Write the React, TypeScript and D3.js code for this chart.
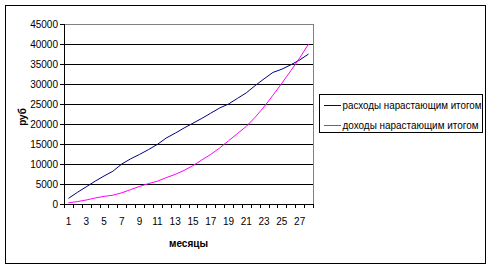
import React from "react";
import * as d3 from "d3";

const months: number[] = Array.from({ length: 28 }, (_, i) => i + 1);
const expenses: number[] = [
  1400, 2900, 4300, 5700, 7000, 8200, 10000, 11300, 12400, 13600, 14900, 16500, 17700, 19000,
  20200, 21400, 22700, 24000, 25000, 26400, 27800, 29600, 31300, 32900, 33700, 34800, 36000, 37500,
];
const income: number[] = [
  300, 600, 1000, 1500, 1900, 2200, 2800, 3600, 4400, 5100, 5700, 6600, 7400, 8400,
  9600, 11000, 12400, 14000, 15800, 17600, 19400, 21700, 24300, 27200, 30200, 33300, 36500, 40000,
];
const yTicks: number[] = [0, 5000, 10000, 15000, 20000, 25000, 30000, 35000, 40000, 45000];
const xLabels: number[] = [1, 3, 5, 7, 9, 11, 13, 15, 17, 19, 21, 23, 25, 27];
const seriesNames: string[] = ["расходы нарастающим итогом", "доходы нарастающим итогом"];
const seriesColors: string[] = ["#000080", "#ff00ff"];
const yTitle = "руб";
const xTitle = "месяцы";

const FONT = "'Liberation Sans', Arial, sans-serif";

export default function App() {
  const W = 491, H = 268;
  const left = 64, right = 313, top = 24, bottom = 204;
  const x = d3.scaleBand<number>().domain(months).range([left, right]).padding(0);
  const y = d3.scaleLinear().domain([0, 45000]).range([bottom, top]);
  const cx = (m: number) => (x(m) as number) + x.bandwidth() / 2;
  const line = d3.line<number>().x((_, i) => cx(months[i])).y((d) => y(d));
  const series = [expenses, income];
  const boundaries = months.map((m) => x(m) as number).concat([right]);
  const legendWidths = [139, 136];

  return (
    <svg width={W} height={H} style={{ position: "fixed", left: 0, top: 0, background: "#fff" }}>
      <rect x={0} y={0} width={W} height={H} fill="#fff" />
      <rect x={5.5} y={5.5} width={480} height={258} fill="#fff" stroke="#000" strokeWidth={1} />
      {/* gridlines */}
      {yTicks.map((t) => (
        <line key={t} x1={left} x2={right} y1={Math.round(y(t)) + 0.5} y2={Math.round(y(t)) + 0.5}
          stroke={t === 45000 ? "#808080" : "#000"} strokeWidth={1} />
      ))}
      {/* plot right border */}
      <line x1={right + 0.5} x2={right + 0.5} y1={top} y2={bottom} stroke="#808080" />
      {/* y axis */}
      <line x1={left + 0.5} x2={left + 0.5} y1={top} y2={bottom + 1} stroke="#000" />
      {yTicks.map((t) => (
        <g key={"yt" + t}>
          <line x1={left - 4} x2={left} y1={Math.round(y(t)) + 0.5} y2={Math.round(y(t)) + 0.5} stroke="#000" />
          <text x={left - 6} y={y(t)} dy="0.35em" textAnchor="end" fontFamily={FONT} fontSize={10} fill="#000">
            {t}
          </text>
        </g>
      ))}
      {/* x axis */}
      <line x1={left} x2={right} y1={bottom + 0.5} y2={bottom + 0.5} stroke="#000" />
      {boundaries.map((b, i) => (
        <line key={"xt" + i} x1={Math.round(b) + 0.5} x2={Math.round(b) + 0.5} y1={bottom} y2={bottom + 4} stroke="#000" />
      ))}
      {xLabels.map((m) => (
        <text key={"xl" + m} x={cx(m)} y={225} textAnchor="middle" fontFamily={FONT} fontSize={10} fill="#000">
          {m}
        </text>
      ))}
      {/* series */}
      {series.map((s, i) => (
        <path key={"s" + i} d={line(s) as string} fill="none" stroke={seriesColors[i]} strokeWidth={1} />
      ))}
      {/* titles */}
      <text x={(left + right) / 2} y={247} textAnchor="middle" fontFamily={FONT} fontSize={10} fontWeight="bold" fill="#000">
        {xTitle}
      </text>
      <text transform={`translate(26,${(top + bottom) / 2 + 3}) rotate(-90)`} textAnchor="middle" fontFamily={FONT}
        fontSize={10} fontWeight="bold" fill="#000">
        {yTitle}
      </text>
      {/* legend */}
      <rect x={319.5} y={94.5} width={163} height={38} fill="#fff" stroke="#000" />
      {seriesNames.map((n, i) => {
        const ly = 105 + i * 20;
        return (
          <g key={"lg" + i}>
            <line x1={324} x2={341} y1={ly + 0.5} y2={ly + 0.5} stroke={seriesColors[i]} />
            <text x={342.5} y={ly} dy="0.35em" fontFamily={FONT} fontSize={10} fill="#000"
              textLength={legendWidths[i]} lengthAdjust="spacingAndGlyphs">
              {n}
            </text>
          </g>
        );
      })}
    </svg>
  );
}
